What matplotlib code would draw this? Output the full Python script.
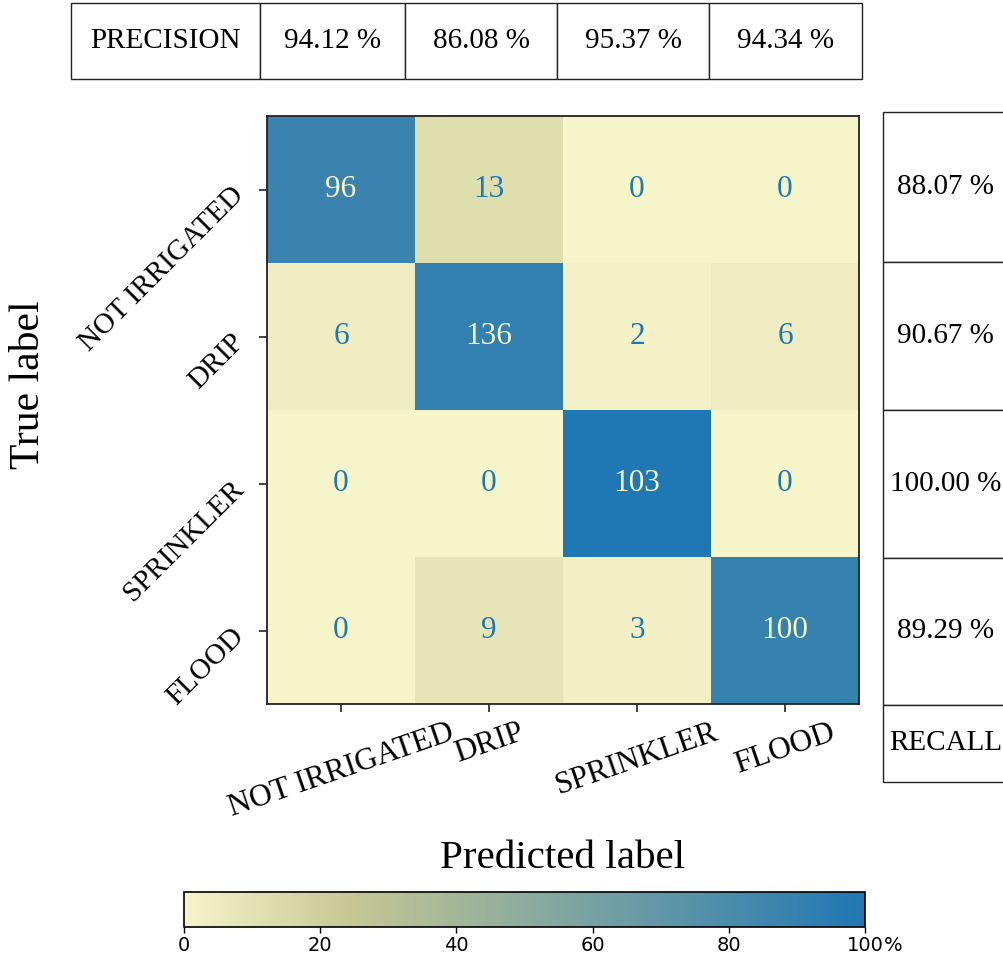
import numpy as np
import matplotlib
matplotlib.use("Agg")
import matplotlib.pyplot as plt
from matplotlib.colors import LinearSegmentedColormap

# ---------------- data ----------------
classes = ["NOT IRRIGATED", "DRIP", "SPRINKLER", "FLOOD"]
row_not_irrigated = [96, 13, 0, 0]
row_drip = [6, 136, 2, 6]
row_sprinkler = [0, 0, 103, 0]
row_flood = [0, 9, 3, 100]
precision_labels = ["94.12 %", "86.08 %", "95.37 %", "94.34 %"]
recall_labels = ["88.07 %", "90.67 %", "100.00 %", "89.29 %"]
cbar_ticks = [0, 20, 40, 60, 80, 100]
cbar_ticklabels = ["0", "20", "40", "60", "80", "100"]
cbar_unit = "%"

counts = np.array([row_not_irrigated, row_drip, row_sprinkler, row_flood])
pct = counts / counts.sum(axis=1, keepdims=True) * 100.0

# ---------------- style ----------------
plt.rcParams["font.family"] = ["Liberation Serif", "DejaVu Serif"]
W, H = 1004, 956
fig = plt.figure(figsize=(W / 100, H / 100), dpi=100)

cmap = LinearSegmentedColormap.from_list(
    "irr", [(0.0, "#f6f4c9"), (0.25, "#c5c693"), (1.0, "#1f77b4")])

def fx(px):
    return px / W

def fy(px):
    return 1 - px / H

# ---------------- heatmap ----------------
ax = fig.add_axes([fx(267), fy(704), fx(859) - fx(267), fy(116) - fy(704)])
im = ax.imshow(pct, cmap=cmap, vmin=0, vmax=100, aspect="auto",
               interpolation="nearest")
for i in range(counts.shape[0]):
    for j in range(counts.shape[1]):
        c = cmap(0.0) if pct[i, j] > 50 else cmap(1.0)
        ax.text(j, i, str(counts[i, j]), ha="center", va="center",
                fontsize=22.5, color=c)

ax.set_xticks(range(len(classes)))
ax.set_xticklabels(classes, rotation=19, fontsize=22.5)
ax.set_yticks(range(len(classes)))
ax.set_yticklabels(classes, rotation=45, ha="right", rotation_mode="anchor",
                   fontsize=21)
ax.tick_params(length=6, width=1.2, color="#222222")
ax.tick_params(axis="x", pad=4)
ax.tick_params(axis="y", pad=15)
for s in ax.spines.values():
    s.set_linewidth(1.3)
    s.set_color("#222222")

ax.set_xlabel("Predicted label", fontsize=29.5)
ax.xaxis.set_label_coords(0.5, -0.232)
ax.set_ylabel("True label", fontsize=30)
ax.yaxis.set_label_coords(-0.37, 0.5425)

# ---------------- colorbar ----------------
cax = fig.add_axes([fx(184), fy(927), fx(865) - fx(184), fy(892) - fy(927)])
cb = fig.colorbar(im, cax=cax, orientation="horizontal", ticks=cbar_ticks)
cb.ax.set_xticklabels(cbar_ticklabels, family="DejaVu Sans", fontsize=14)
cb.outline.set_linewidth(1.2)
cb.ax.tick_params(length=4, width=1, pad=2.5)
cax.annotate(cbar_unit, xy=(1.0, 0.0), xycoords="axes fraction",
             xytext=(13.3, -6.5), textcoords="offset points",
             ha="left", va="top", family="DejaVu Sans", fontsize=14)

# ---------------- precision table (top) ----------------
tax = fig.add_axes([fx(71), fy(79), fx(862) - fx(71), fy(3) - fy(79)])
tax.axis("off")
col_w = np.array([189, 145, 152, 152, 153], dtype=float)
col_w = col_w / col_w.sum()
ptab = tax.table(cellText=[["PRECISION"] + precision_labels],
                 colWidths=list(col_w), cellLoc="center",
                 bbox=[0, 0, 1, 1])
ptab.auto_set_font_size(False)
for (r, c), cell in ptab.get_celld().items():
    cell.set_linewidth(1.0)
    cell.set_edgecolor("#222222")
    cell.get_text().set_fontsize(21)

# ---------------- recall table (right) ----------------
rax = fig.add_axes([fx(883), fy(782), fx(1008) - fx(883), fy(112) - fy(782)])
rax.axis("off")
row_h = [150, 148, 148, 147, 77]
rtab = rax.table(cellText=[[v] for v in recall_labels] + [["RECALL"]],
                 colWidths=[1.0], cellLoc="center", bbox=[0, 0, 1, 1])
rtab.auto_set_font_size(False)
for (r, c), cell in rtab.get_celld().items():
    cell.set_height(row_h[r] / sum(row_h))
    cell.set_linewidth(1.0)
    cell.set_edgecolor("#222222")
    cell.get_text().set_fontsize(21)

fig.savefig("out.png", dpi=100)
